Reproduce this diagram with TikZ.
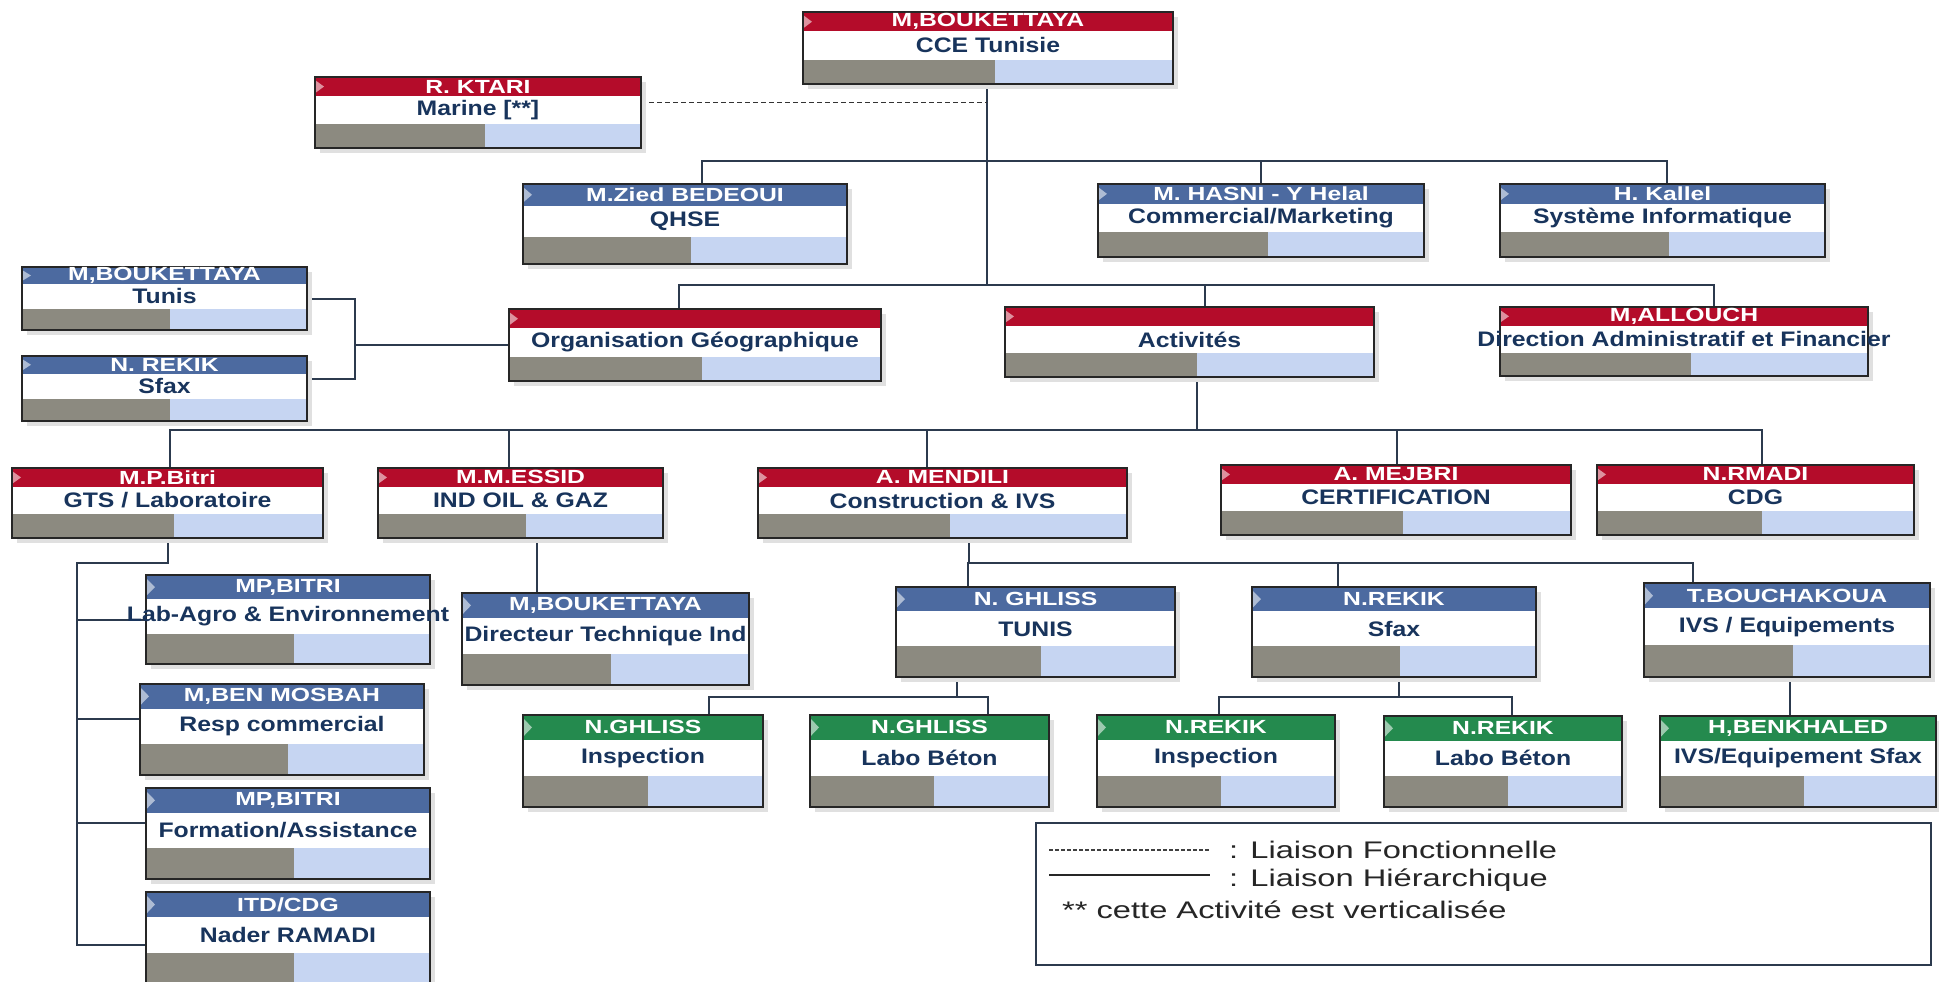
\documentclass[tikz,border=0pt]{standalone}
\usepackage{fontspec}
\setmainfont{Liberation Sans}
\usetikzlibrary{calc,backgrounds}

\definecolor{redhd}{RGB}{180,12,42}
\definecolor{bluehd}{RGB}{76,106,160}
\definecolor{greenhd}{RGB}{36,138,78}
\definecolor{bargray}{RGB}{140,138,128}
\definecolor{barblue}{RGB}{198,213,242}
\definecolor{navytxt}{RGB}{24,52,92}
\definecolor{linkcol}{RGB}{44,58,78}

\tikzset{
  frame/.style={draw=black!85, line width=1.8pt, inner sep=0pt, outer sep=0pt},
  hdtext/.style={text=white, font=\fontsize{19}{20}\selectfont\bfseries, inner sep=0pt},
  bodytext/.style={text=navytxt, font=\fontsize{21}{22}\selectfont\bfseries, inner sep=0pt},
  link/.style={draw=linkcol, line width=2pt},
  func/.style={draw=black!80, line width=1.6pt, dash pattern=on 5pt off 3pt},
  legbox/.style={draw=linkcol, line width=2.5pt, inner sep=0pt},
  legtext/.style={text=black!85, font=\fontsize{24}{25}\selectfont, inner sep=0pt, anchor=west}
}

\newcommand{\wide}[2][1.18]{\scalebox{#1}[1]{#2}}

% name, x1, y1, x2, y2, colour, header, body
\newcommand{\orgbox}[8]{%
  \pgfmathsetmacro{\yHd}{#3+0.27*(#5-#3)}%
  \pgfmathsetmacro{\yBar}{#3+0.66*(#5-#3)}%
  \pgfmathsetmacro{\xBar}{#2+0.52*(#4-#2)}%
  \pgfmathsetmacro{\xMid}{(#2+#4)/2}%
  \pgfmathsetmacro{\bW}{#4-#2}%
  \pgfmathsetmacro{\bH}{#5-#3}%
  \fill[black!12] (#2+5,#3+5) rectangle (#4+5,#5+5);
  \fill[white] (#2,#3) rectangle (#4,#5);
  \fill[#6] (#2,#3) rectangle (#4,\yHd);
  \fill[#6!45!white] (#2,#3+3) -- (#2+9,{(#3+\yHd)/2}) -- (#2,\yHd-3) -- cycle;
  \fill[bargray] (#2,\yBar) rectangle (\xBar,#5);
  \fill[barblue] (\xBar,\yBar) rectangle (#4,#5);
  \node[frame, minimum width=\bW pt, minimum height=\bH pt] (#1) at (\xMid,{(#3+#5)/2}) {};
  \node[hdtext] (#1-h) at (\xMid,{(#3+\yHd)/2}) {\wide[1.3]{#7}};
  \node[bodytext] (#1-b) at (\xMid,{(\yHd+\yBar)/2}) {\wide{#8}};
}

\begin{document}
\begin{tikzpicture}[x=1pt, y=-1pt]
  \useasboundingbox (0,0) rectangle (1939,982);

  \orgbox{cce}{803}{12}{1173}{84}{redhd}{M,BOUKETTAYA}{CCE Tunisie}
  \orgbox{marine}{315}{77}{641}{148}{redhd}{R. KTARI}{Marine [**]}
  \orgbox{qhse}{523}{184}{847}{264}{bluehd}{M.Zied BEDEOUI}{QHSE}
  \orgbox{comm}{1098}{184}{1424}{257}{bluehd}{M. HASNI - Y Helal}{Commercial/Marketing}
  \orgbox{info}{1500}{184}{1825}{257}{bluehd}{H. Kallel}{Système Informatique}
  \orgbox{tunis}{22}{267}{307}{330}{bluehd}{M,BOUKETTAYA}{Tunis}
  \orgbox{sfax}{22}{356}{307}{421}{bluehd}{N. REKIK}{Sfax}
  \orgbox{geo}{509}{309}{881}{381}{redhd}{}{Organisation Géographique}
  \orgbox{activ}{1005}{307}{1374}{377}{redhd}{}{Activités}
  \orgbox{daf}{1500}{307}{1868}{376}{redhd}{M,ALLOUCH}{Direction Administratif et Financier}
  \orgbox{gts}{12}{468}{323}{538}{redhd}{M.P.Bitri}{GTS / Laboratoire}
  \orgbox{oil}{378}{468}{663}{538}{redhd}{M.M.ESSID}{IND OIL \& GAZ}
  \orgbox{cons}{758}{468}{1127}{538}{redhd}{A. MENDILI}{Construction \& IVS}
  \orgbox{certif}{1221}{465}{1571}{535}{redhd}{A. MEJBRI}{CERTIFICATION}
  \orgbox{cdg}{1597}{465}{1914}{535}{redhd}{N.RMADI}{CDG}
  \orgbox{agro}{146}{575}{430}{664}{bluehd}{MP,BITRI}{Lab-Agro \& Environnement}
  \orgbox{mosbah}{140}{684}{424}{775}{bluehd}{M,BEN MOSBAH}{Resp commercial}
  \orgbox{form}{146}{788}{430}{879}{bluehd}{MP,BITRI}{Formation/Assistance}
  \orgbox{itd}{146}{892}{430}{985}{bluehd}{ITD/CDG}{Nader RAMADI}
  \orgbox{dti}{462}{593}{749}{685}{bluehd}{M,BOUKETTAYA}{Directeur Technique Ind}
  \orgbox{gtun}{896}{587}{1175}{677}{bluehd}{N. GHLISS}{TUNIS}
  \orgbox{gsfx}{1252}{587}{1536}{677}{bluehd}{N.REKIK}{Sfax}
  \orgbox{ivs}{1644}{583}{1930}{677}{bluehd}{T.BOUCHAKOUA}{IVS / Equipements}
  \orgbox{ginsp}{523}{715}{763}{807}{greenhd}{N.GHLISS}{Inspection}
  \orgbox{gbet}{810}{715}{1049}{807}{greenhd}{N.GHLISS}{Labo Béton}
  \orgbox{rinsp}{1097}{715}{1335}{807}{greenhd}{N.REKIK}{Inspection}
  \orgbox{rbet}{1384}{716}{1622}{807}{greenhd}{N.REKIK}{Labo Béton}
  \orgbox{benk}{1660}{716}{1936}{807}{greenhd}{H,BENKHALED}{IVS/Equipement Sfax}

  % bus points and drop points
  \coordinate (b1) at (987,161);
  \coordinate (b2) at (987,285);
  \coordinate (b3) at (1197,430);
  \coordinate (b4) at (969,563);
  \coordinate (b5) at (957,697);
  \coordinate (b6) at (1399,697);
  \coordinate (gj) at (355,345);
  \coordinate (lt) at (77,563);
  \coordinate (qhse-in) at ([xshift=17]qhse.north);
  \coordinate (info-in) at ([xshift=4]info.north);
  \coordinate (geo-in) at ([xshift=-16]geo.north);
  \coordinate (activ-in) at ([xshift=15]activ.north);
  \coordinate (daf-in) at ([xshift=30]daf.north);
  \coordinate (gts-in) at ([xshift=2]gts.north);
  \coordinate (oil-in) at ([xshift=-12]oil.north);
  \coordinate (cons-in) at ([xshift=-16]cons.north);
  \coordinate (certif-in) at ([xshift=1]certif.north);
  \coordinate (cdg-in) at ([xshift=6]cdg.north);
  \coordinate (oil-out) at ([xshift=16]oil.south);
  \coordinate (gtun-in) at ([xshift=-68]gtun.north);
  \coordinate (gsfx-in) at ([xshift=-56]gsfx.north);
  \coordinate (ivs-in) at ([xshift=-94]ivs.north);
  \coordinate (ginsp-in) at ([xshift=66]ginsp.north);
  \coordinate (gbet-in) at ([xshift=58]gbet.north);
  \coordinate (rinsp-in) at ([xshift=3]rinsp.north);
  \coordinate (rbet-in) at ([xshift=9]rbet.north);
  \coordinate (ivs-out) at ([xshift=3]ivs.south);
  \coordinate (mf) at ([yshift=10]marine.east);
  \coordinate (sf) at ([yshift=10]sfax.east);
  \coordinate (agro-l) at (agro.west);
  \coordinate (mosbah-l) at ([yshift=11]mosbah.west);
  \coordinate (form-l) at ([yshift=11]form.west);
  \coordinate (itd-l) at ([yshift=-6]itd.west);

  \begin{pgfonlayer}{background}
    \fill[white] (0,0) rectangle (1939,982);
    \draw[link] (cce.south -| b2) -- (b2);
    \draw[link] (qhse-in) |- (b1) -| (info-in);
    \draw[link] (comm.north) -- (comm.north |- b1);
    \draw[link] (geo-in) |- (b2) -| (daf-in);
    \draw[link] (activ-in) -- (activ-in |- b2);
    \draw[func] (mf) -- (mf -| b1);
    \draw[link] (tunis.east) -| (gj);
    \draw[link] (sf) -| (gj);
    \draw[link] (gj) -- (geo.west);
    \draw[link] (b3 |- activ.south) -- (b3);
    \draw[link] (gts-in) |- (b3) -| (cdg-in);
    \foreach \n in {oil,cons,certif}
      \draw[link] (\n-in) -- (\n-in |- b3);
    \draw[link] (gts.south) |- (lt) |- (itd-l);
    \foreach \n in {agro,mosbah,form}
      \draw[link] (lt |- \n-l) -- (\n-l);
    \draw[link] (oil-out) -- (oil-out |- dti.north);
    \draw[link] (b4 |- cons.south) -- (b4);
    \draw[link] (gtun-in) |- (b4) -| (ivs-in);
    \draw[link] (gsfx-in) -- (gsfx-in |- b4);
    \draw[link] (b5 |- gtun.south) -- (b5);
    \draw[link] (ginsp-in) |- (b5) -| (gbet-in);
    \draw[link] (b6 |- gsfx.south) -- (b6);
    \draw[link] (rinsp-in) |- (b6) -| (rbet-in);
    \draw[link] (ivs-out) -- (ivs-out |- benk.north);
  \end{pgfonlayer}

  % legend
  \node[legbox, minimum width=895pt, minimum height=142pt] (legend) at (1483.5,894) {};
  \draw[black!75, line width=1.2pt, dash pattern=on 4pt off 2pt] (1049,850) -- (1210,850);
  \draw[black!85, line width=1.4pt] (1049,875) -- (1210,875);
  \node[legtext] (leg-f) at (1229,850) {\wide[1.36]{: Liaison Fonctionnelle}};
  \node[legtext] (leg-h) at (1229,880) {\wide[1.36]{: Liaison Hiérarchique}};
  \node[legtext] (leg-v) at (1062,910) {\wide[1.36]{** cette Activité est verticalisée}};
\end{tikzpicture}
\end{document}
